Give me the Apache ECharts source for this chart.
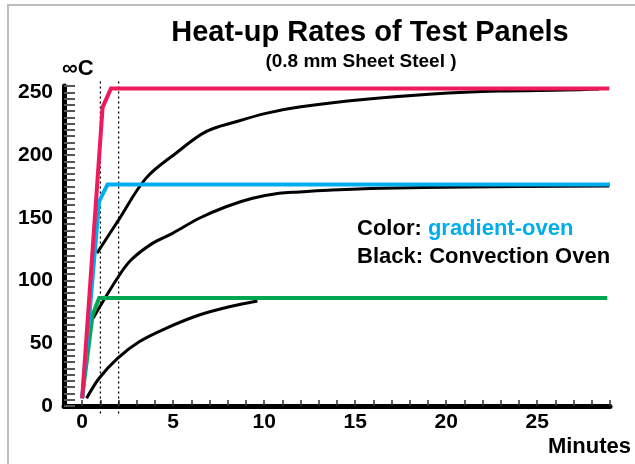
<!DOCTYPE html>
<html><head><meta charset="utf-8">
<script src="https://cdn.jsdelivr.net/npm/echarts@6/dist/echarts.min.js"></script>
<style>html,body{margin:0;padding:0;background:#fff}#c{width:635px;height:464px}</style>
</head><body><div id="c"></div>
<script>
// ---- data ----
const xLabels = [0, 5, 10, 15, 20, 25];
const yLabels = [0, 50, 100, 150, 200, 250];
const guideMinutes = [1, 2];

const minutesRed = [0, 1.12, 1.58, 28.96];
const tempRed = [6, 238, 253, 253];
const minutesBlue = [0, 0.93, 1.39, 29.0];
const tempBlue = [6, 163, 176.5, 176.5];
const minutesGreen = [0, 0.57, 0.93, 28.85];
const tempGreen = [7, 72.5, 86, 86];

const minutesConv1 = [0.81, 1.94, 3.50, 5.15, 6.80, 8.45, 10.09, 11.92, 15.59, 19.25, 22.91, 26.58, 28.4];
const tempConv1 = [121.7, 146.9, 181.4, 201.4, 218.6, 226.5, 233.2, 238.2, 244.4, 248.6, 251.0, 251.8, 252.6];
const minutesConv2 = [0.60, 1.94, 2.68, 3.86, 4.96, 6.43, 7.90, 9.36, 10.82, 11.92, 13.74, 16.48, 21.08, 28.96];
const tempConv2 = [70, 102, 116.3, 129.6, 137.6, 149.6, 158.8, 165.5, 169.5, 170.5, 172.1, 173.5, 174.5, 175.3];
const minutesConv3 = [0.24, 0.93, 1.94, 3.13, 4.60, 6.43, 8.26, 9.63];
const tempConv3 = [6.1, 22.1, 38.0, 51.2, 61.9, 72.5, 79.7, 83.7];

// ---- helpers ----
const pairs = (xs, ys) => xs.map((x, i) => [x, ys[i]]);
const range = (a, b, s) => { const r = []; for (let v = a; v <= b + 1e-9; v += s) r.push(v); return r; };
const FONT = "'Liberation Sans', Arial, sans-serif";

const blackSeries = [[minutesConv1, tempConv1], [minutesConv2, tempConv2], [minutesConv3, tempConv3]].map(([xs, ys]) => ({
  type: 'line', data: pairs(xs, ys), smooth: 0.35, symbol: 'none',
  lineStyle: { color: '#000', width: 3 }, z: 3
}));
const guideSeries = guideMinutes.map(m => ({
  type: 'line', data: [[m, -6], [m, 261]], symbol: 'none', clip: false,
  lineStyle: { color: '#000', width: 1.3, type: [2, 3] }, z: 2
}));
const colorSeries = [
  [minutesGreen, tempGreen, '#00A651'],
  [minutesBlue, tempBlue, '#00AEEF'],
  [minutesRed, tempRed, '#ED1A5C']
].map(([xs, ys, c], i) => ({
  type: 'line', data: pairs(xs, ys), symbol: 'none',
  lineStyle: { color: c, width: 4, join: 'miter' }, z: 4 + i
}));

const chart = echarts.init(document.getElementById('c'), null, { renderer: 'canvas' });
chart.setOption({
  animation: false,
  backgroundColor: '#fff',
  textStyle: { fontFamily: FONT },
  title: [
    { text: 'Heat-up Rates of Test Panels', left: 365, top: 13, textAlign: 'center',
      textStyle: { fontFamily: FONT, fontSize: 29, fontWeight: 'bold', color: '#000' } },
    { text: '(0.8 mm Sheet Steel )', left: 356, top: 47, textAlign: 'center',
      textStyle: { fontFamily: FONT, fontSize: 19, fontWeight: 'bold', color: '#000' } },
    { text: '{k|Color: }{b|gradient-oven}\n{k|Black: Convection Oven}', left: 352, top: 210,
      textStyle: { fontFamily: FONT, fontSize: 22, fontWeight: 'bold', lineHeight: 28,
        rich: { k: { color: '#000', fontFamily: FONT, fontSize: 22, fontWeight: 'bold', lineHeight: 28 },
                b: { color: '#00AEEF', fontFamily: FONT, fontSize: 22, fontWeight: 'bold', lineHeight: 28 } } } }
  ],
  graphic: [
    { type: 'line', shape: { x1: 7, y1: 5, x2: 635, y2: 5 }, style: { stroke: '#bdbdbd', lineWidth: 2 }, silent: true },
    { type: 'line', shape: { x1: 8, y1: 4, x2: 8, y2: 464 }, style: { stroke: '#bdbdbd', lineWidth: 2 }, silent: true }
  ],
  grid: { left: 64, right: 25, top: 86, bottom: 58, containLabel: false },
  xAxis: {
    type: 'value', min: -1, max: 29,
    name: 'Minutes', nameLocation: 'end', nameGap: 21,
    nameTextStyle: { fontFamily: FONT, fontSize: 22, fontWeight: 'bold', color: '#000', align: 'right', verticalAlign: 'top', padding: [30, 0, 0, 0] },
    axisLine: { show: true, onZero: false, lineStyle: { color: '#000', width: 5 } },
    axisTick: { show: true, inside: true, length: 6, customValues: range(0, 29, 1), lineStyle: { color: '#333', width: 1.5 } },
    axisLabel: { customValues: xLabels, margin: 6, fontFamily: FONT, fontSize: 21, fontWeight: 'bold', color: '#000' },
    splitLine: { show: false }
  },
  yAxis: {
    type: 'value', min: 0, max: 255,
    name: '∞C', nameLocation: 'end', nameGap: 6,
    nameTextStyle: { fontFamily: FONT, fontSize: 22, fontWeight: 'bold', color: '#000', align: 'left', padding: [0, 0, 0, -2] },
    axisLine: { show: true, onZero: false, lineStyle: { color: '#000', width: 5 } },
    axisTick: { show: true, inside: true, length: 11, customValues: range(0, 255, 5), lineStyle: { color: '#555', width: 2 } },
    axisLabel: { customValues: yLabels, margin: 11, fontFamily: FONT, fontSize: 21, fontWeight: 'bold', color: '#000' },
    splitLine: { show: false }
  },
  series: [...guideSeries, ...blackSeries, ...colorSeries]
});
</script></body></html>
